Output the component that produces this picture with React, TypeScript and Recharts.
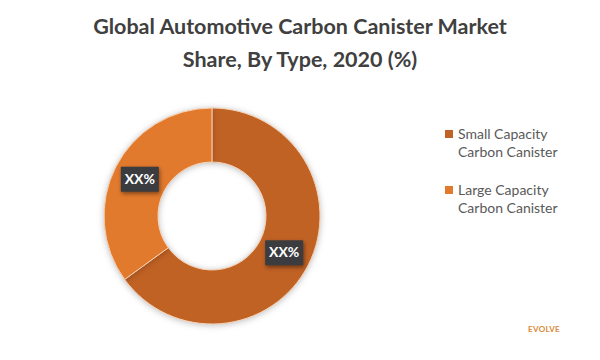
import { PieChart, Pie, Cell, Legend } from 'recharts'

const categories = ['Small Capacity Carbon Canister', 'Large Capacity Carbon Canister']
const shares = [65, 35]
const labelTexts = ['XX%', 'XX%']
const legendLines = [
  ['Small Capacity', 'Carbon Canister'],
  ['Large Capacity', 'Carbon Canister'],
]
const colors = ['#C16225', '#E27A2D']

const data = categories.map((name, i) => ({ name, value: shares[i], label: labelTexts[i] }))

const RAD = Math.PI / 180

function BoxLabel(props: any) {
  const { cx, cy, midAngle, innerRadius, outerRadius, index } = props
  const r = (innerRadius + outerRadius) / 2
  const x = cx + r * Math.cos(-midAngle * RAD)
  const y = cy + r * Math.sin(-midAngle * RAD)
  return (
    <g>
      <rect x={x - 19} y={y - 12.5} width={38} height={25} fill="#3a3c3f"
        style={{ filter: 'drop-shadow(1px 2px 2px rgba(0,0,0,0.45))' }} />
      <text x={x} y={y + 1} textAnchor="middle" dominantBaseline="middle"
        fontSize={14} fontWeight={700} fill="#ffffff" fontFamily="Lato, sans-serif">
        {data[index].label}
      </text>
    </g>
  )
}

function LegendBox() {
  return (
    <div style={{ fontFamily: 'Lato, sans-serif', fontSize: 14, color: '#595959', lineHeight: '18px' }}>
      {legendLines.map((lines, i) => (
        <div key={i} style={{ display: 'flex', alignItems: 'flex-start', marginBottom: i === 0 ? 20 : 0 }}>
          <span style={{ width: 8, height: 8, background: colors[i], marginTop: 5, marginRight: 5, flex: 'none' }} />
          <span>
            {lines[0]}
            <br />
            {lines[1]}
          </span>
        </div>
      ))}
    </div>
  )
}

export default function App() {
  return (
    <div style={{ position: 'fixed', left: 0, top: 0, width: 600, height: 360, background: '#fff' }}>
      <div style={{
        position: 'absolute', left: 0, top: 10, width: 600, textAlign: 'center',
        fontFamily: 'Lato, sans-serif', fontWeight: 700, fontSize: 21.5, lineHeight: '33px', color: '#404040',
      }}>
        Global Automotive Carbon Canister Market
        <br />
        Share, By Type, 2020 (%)
      </div>
      <div style={{ position: 'absolute', left: 0, top: 0 }}>
        <PieChart width={600} height={360}>
          <Pie
            data={data}
            dataKey="value"
            nameKey="name"
            cx={207}
            cy={211}
            innerRadius={54}
            outerRadius={108}
            startAngle={90}
            endAngle={-270}
            stroke="#f6d2b4"
            strokeWidth={1}
            label={BoxLabel}
            labelLine={false}
            isAnimationActive={false}
            style={{ filter: 'drop-shadow(0px 1px 3px rgba(0,0,0,0.25))' }}
          >
            {data.map((d, i) => (
              <Cell key={d.name} fill={colors[i]} />
            ))}
          </Pie>
          <Legend
            layout="vertical"
            align="right"
            verticalAlign="top"
            wrapperStyle={{ left: 445, top: 125, width: 150 }}
            content={() => <LegendBox />}
          />
        </PieChart>
      </div>
      <div style={{
        position: 'absolute', left: 526, top: 324, width: 36, textAlign: 'center',
        fontFamily: 'Lato, sans-serif', fontWeight: 700, fontSize: 8, color: '#d98a3a', letterSpacing: 0.3,
      }}>
        EVOLVE
      </div>
    </div>
  )
}
